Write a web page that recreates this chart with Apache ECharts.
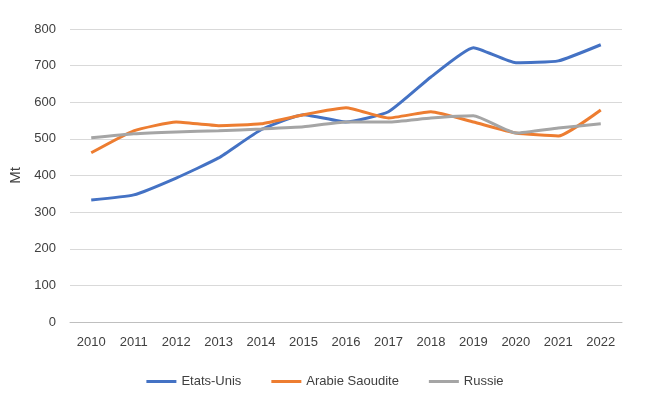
<!DOCTYPE html>
<html><head><meta charset="utf-8">
<script src="https://cdn.jsdelivr.net/npm/echarts@6/dist/echarts.min.js"></script>
<style>html,body{margin:0;padding:0;background:#fff}#main{width:650px;height:407px}</style>
</head><body><div id="main"></div>
<script>
var years = ['2010','2011','2012','2013','2014','2015','2016','2017','2018','2019','2020','2021','2022'];
var etatsUnis = [333,347,393,448,525,566,546,574,669,749,708,713,757];
var arabie = [462,522,546,536,541,566,585,557,574,546,516,508,579];
var russie = [503,514,519,522,527,533,546,546,557,563,516,530,541];

var chart = echarts.init(document.getElementById('main'));
var font = 'Liberation Sans';
function line(name, data, color) {
  return {name: name, type: 'line', data: data, symbol: 'none', smooth: 0.15,
    lineStyle: {width: 3, color: color}, itemStyle: {color: color}};
}
chart.setOption({
  animation: false,
  textStyle: {fontFamily: font},
  grid: {left: 70, right: 28, top: 29, bottom: 85},
  legend: {bottom: 14, left: 'center', itemWidth: 30, itemHeight: 3, itemGap: 30,
    icon: 'rect', textStyle: {fontSize: 13, color: '#404040', fontFamily: font}},
  xAxis: {type: 'category', data: years, boundaryGap: true,
    axisLine: {lineStyle: {color: '#bfbfbf'}}, axisTick: {show: false},
    axisLabel: {fontSize: 13, color: '#404040', margin: 14}},
  yAxis: {type: 'value', min: 0, max: 800, interval: 100, name: 'Mt',
    nameLocation: 'middle', nameGap: 45, nameTextStyle: {fontSize: 15, color: '#404040'},
    axisLabel: {fontSize: 13, color: '#404040', margin: 14},
    splitLine: {lineStyle: {color: '#d9d9d9'}}},
  series: [
    line('Etats-Unis', etatsUnis, '#4472C4'),
    line('Arabie Saoudite', arabie, '#ED7D31'),
    line('Russie', russie, '#A5A5A5')
  ]
});
</script></body></html>
